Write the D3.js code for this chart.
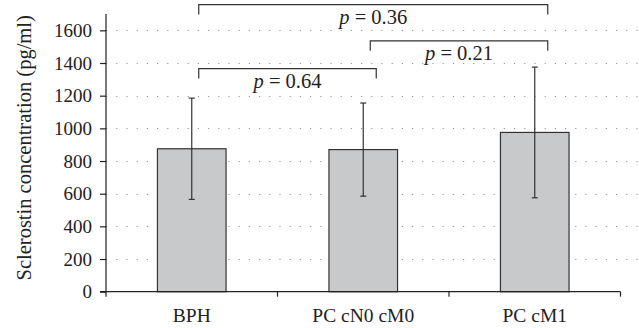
<!DOCTYPE html>
<html>
<head>
<meta charset="utf-8">
<script src="https://cdn.jsdelivr.net/npm/d3@7"></script>
<style>
  body { margin: 0; background: #fff; }
  svg { display: block; font-family: "Liberation Serif", "Times New Roman", serif; }
</style>
</head>
<body>
<div id="chart"></div>
<script>
// chart data
const groups = ["BPH", "PC cN0 cM0", "PC cM1"];
const means = [875, 870, 975];
const errUpper = [1185, 1155, 1375];
const errLower = [565, 585, 575];
const yTicks = [0, 200, 400, 600, 800, 1000, 1200, 1400, 1600];

// significance brackets
const pFrom = ["BPH", "PC cN0 cM0", "BPH"];
const pTo = ["PC cN0 cM0", "PC cM1", "PC cM1"];
const pLevel = [1365, 1535, 1757];
const pLabel = ["0.64", "0.21", "0.36"];

(function() {
  const W = 639, H = 328;
  const margin = { top: 14, right: 18.5, bottom: 36.3, left: 106 },
        width = W - margin.left - margin.right,
        height = H - margin.top - margin.bottom;

  const svg = d3.select("#chart")
    .append("svg")
    .attr("width", W)
    .attr("height", H)
    .append("g")
    .attr("transform", `translate(${margin.left},${margin.top})`);

  const x = d3.scaleBand()
    .domain(groups)
    .range([0, width])
    .padding(0);

  const y = d3.scaleLinear()
    .domain([0, 1700])
    .range([height, 0]);

  const barW = x.bandwidth() * 0.4;
  const cx = g => x(g) + x.bandwidth() / 2;

  // dotted grid lines
  svg.selectAll(".grid")
    .data(yTicks.filter(d => d > 0))
    .enter()
    .append("line")
    .attr("x1", 0)
    .attr("x2", W - margin.left)
    .attr("y1", d => Math.round(y(d)) + 0.5)
    .attr("y2", d => Math.round(y(d)) + 0.5)
    .attr("stroke", "#999")
    .attr("stroke-width", 1.2)
    .attr("stroke-dasharray", "1.2,9");

  // bars
  svg.selectAll(".bar")
    .data(groups)
    .enter()
    .append("rect")
    .attr("x", d => cx(d) - barW / 2)
    .attr("y", (d, i) => y(means[i]))
    .attr("width", barW)
    .attr("height", (d, i) => height - y(means[i]))
    .attr("fill", "#c8c9cb")
    .attr("stroke", "#333")
    .attr("stroke-width", 1.2);

  // error bars
  groups.forEach((g, i) => {
    svg.append("line")
      .attr("x1", cx(g)).attr("x2", cx(g))
      .attr("y1", y(errUpper[i])).attr("y2", y(errLower[i]))
      .attr("stroke", "#333").attr("stroke-width", 1.2);
    [errUpper[i], errLower[i]].forEach(v => {
      svg.append("line")
        .attr("x1", cx(g) - 3).attr("x2", cx(g) + 3)
        .attr("y1", y(v)).attr("y2", y(v))
        .attr("stroke", "#333").attr("stroke-width", 1.2);
    });
  });

  // axes
  const yAxis = svg.append("g")
    .call(d3.axisLeft(y).tickValues(yTicks).tickFormat(d3.format("d")).tickSize(6).tickPadding(8));
  yAxis.select(".domain").attr("d", `M-6,${height}H0V0`).attr("stroke", "#222").attr("stroke-width", 1.2);
  yAxis.selectAll(".tick line").attr("stroke", "#222").attr("stroke-width", 1.2);
  yAxis.selectAll(".tick text")
    .attr("fill", "#222")
    .style("font-size", "19px")
    .style("font-family", "Liberation Serif, serif");

  const xAxis = svg.append("g")
    .attr("transform", `translate(0,${height})`)
    .call(d3.axisBottom(x).tickSize(0).tickPadding(16));
  xAxis.select(".domain").attr("d", `M0,0H${width}`).attr("stroke", "#222").attr("stroke-width", 1.2);
  xAxis.selectAll(".tick text")
    .attr("fill", "#222")
    .style("font-size", "19.5px")
    .style("font-family", "Liberation Serif, serif");

  // tick marks between categories
  const bounds = groups.map(g => x(g)).concat([width]);
  svg.selectAll(".xtick")
    .data(bounds)
    .enter()
    .append("line")
    .attr("x1", d => d).attr("x2", d => d)
    .attr("y1", height).attr("y2", height + 5)
    .attr("stroke", "#222").attr("stroke-width", 1.2);

  // y title
  svg.append("text")
    .attr("text-anchor", "middle")
    .attr("transform", `translate(${-margin.left + 24},${height / 2 - 5}) rotate(-90)`)
    .attr("dy", "0.35em")
    .attr("fill", "#222")
    .style("font-size", "20.5px")
    .text("Sclerostin concentration (pg/ml)");

  // significance brackets
  pLabel.forEach((lab, i) => {
    const x1 = cx(pFrom[i]) + 7, x2 = cx(pTo[i]) + 13;
    const yt = y(pLevel[i]), yb = y(pLevel[i] - 60);
    svg.append("path")
      .attr("d", `M${x1},${yb}V${yt}H${x2}V${yb}`)
      .attr("fill", "none")
      .attr("stroke", "#333")
      .attr("stroke-width", 1.2);
    const t = svg.append("text")
      .attr("x", (x1 + x2) / 2)
      .attr("y", yt + 19)
      .attr("text-anchor", "middle")
      .attr("fill", "#222")
      .style("font-size", "20.5px");
    t.append("tspan").style("font-style", "italic").text("p");
    t.append("tspan").text(" = " + lab);
  });
})();
</script>
</body>
</html>
